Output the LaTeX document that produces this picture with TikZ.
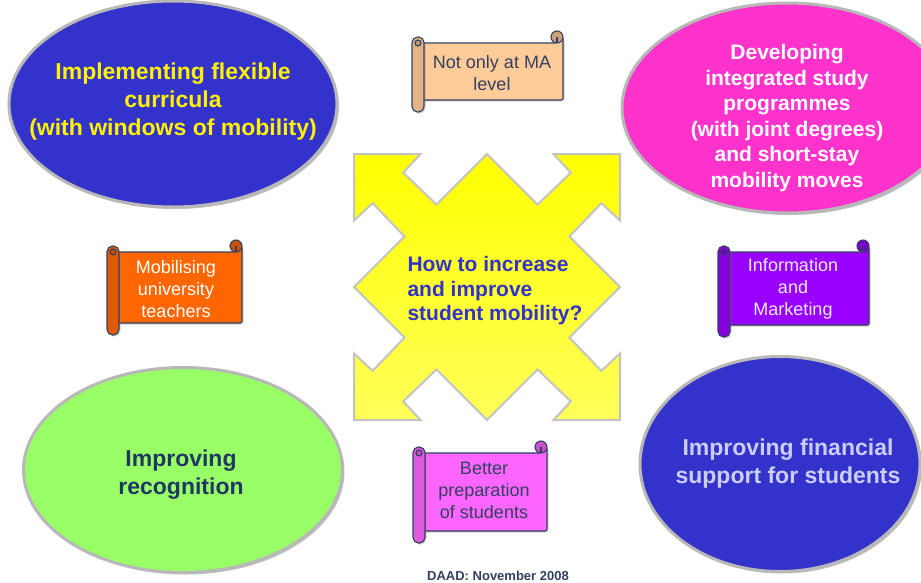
\documentclass[tikz,border=0pt]{standalone}
\usepackage{fontspec}
\setmainfont{Liberation Sans}
\usetikzlibrary{shapes.geometric,shadows}

\definecolor{deepblue}{HTML}{3333CC}
\definecolor{hotpink}{HTML}{FF33CC}
\definecolor{limegreen}{HTML}{99FF66}
\definecolor{peach}{HTML}{FFCC99}
\definecolor{tangerine}{HTML}{FF6600}
\definecolor{violetfill}{HTML}{9900FF}
\definecolor{pinkfill}{HTML}{FF66FF}
\definecolor{slate}{HTML}{334060}
\definecolor{navy}{HTML}{1F3864}
\definecolor{lavender}{HTML}{CCCCFF}
\definecolor{rimgray}{HTML}{B8B8B8}

\tikzset{
  bubble/.style={ellipse, draw=rimgray, line width=3pt, inner sep=0pt, align=center,
    drop shadow={shadow xshift=2pt, shadow yshift=-2pt, fill=gray, opacity=0.5}},
  bubbletext/.style={font=\fontsize{23}{28}\selectfont\bfseries},
  scrollline/.style={draw=slate, line width=1.1pt},
  scrolltext/.style={align=center, font=\fontsize{18}{22}\selectfont},
}

% scroll: left, top, right, bottom, roll size, colour
\newcommand{\scrollbox}[6]{%
  % sheet
  \draw[scrollline, fill=#6, rounded corners=2pt,
    drop shadow={shadow xshift=1.5pt, shadow yshift=-1.5pt, opacity=0.35}]
    ({#1+#5/2},{#2+#5}) -- ({#3-#5/2},{#2+#5}) -- ({#3-#5/2},{#2+#5/2})
    -- (#3,{#2+#5/2}) -- (#3,{#4-#5}) -- ({#1+#5/2},{#4-#5}) -- cycle;
  % top right curl
  \draw[scrollline, fill=#6!80!black] ({#3-#5/2},{#2+#5/2}) circle ({#5/2});
  \draw[scrollline] ({#3-#5/2},{#2+#5/2}) -- ({#3-#5/2},{#2+#5});
  % left roll
  \draw[scrollline, fill=#6!88!black, rounded corners=5.5pt,
    drop shadow={shadow xshift=1.5pt, shadow yshift=-1.5pt, opacity=0.35}]
    (#1,{#2+#5/2}) rectangle ({#1+#5},#4);
  \draw[scrollline, fill=#6!75!black] ({#1+#5/2},{#2+#5}) circle ({#5/4});
}

\begin{document}
\begin{tikzpicture}[x=1pt,y=-1pt]
  \useasboundingbox[fill=white] (0,0) rectangle (921,582);

  % Ellipses
  \node[bubble, fill=deepblue, minimum width=328pt, minimum height=206pt] (flex) at (173,104) {};
  \node[bubbletext, text=yellow, align=center] (flextext) at (173,102)
    {Implementing flexible\\curricula\\(with windows of mobility)};

  \node[bubble, fill=hotpink, minimum width=330pt, minimum height=210pt] (integ) at (787,108) {};
  \node[font=\fontsize{21}{25.5}\selectfont\bfseries, text=white, align=center] (integtext) at (787,118)
    {Developing\\integrated study\\programmes\\(with joint degrees)\\and short-stay\\mobility moves};

  \node[bubble, fill=limegreen, minimum width=319pt, minimum height=205pt] (recog) at (183,470) {};
  \node[bubbletext, text=navy, align=center] (recogtext) at (181,474.5)
    {Improving\\recognition};

  \node[bubble, fill=deepblue, minimum width=280pt, minimum height=215pt] (finan) at (780,464) {};
  \node[bubbletext, text=lavender, align=center] (finantext) at (788,464)
    {Improving financial\\support for students};

  % Four-way arrow
  \begin{scope}[shift={(487,287)}, scale=133]
    \draw[draw=rimgray!85, line width=2pt,
      top color={rgb,255:red,255;green,255;blue,0}, bottom color={rgb,255:red,255;green,255;blue,90}]
      (-1,-1) -- (-0.5,-1) -- (-0.63,-0.86) -- (-0.38,-0.62) -- (0,-1) -- (0.38,-0.62)
      -- (0.63,-0.86) -- (0.5,-1) -- (1,-1) -- (1,-0.5) -- (0.86,-0.63) -- (0.62,-0.38)
      -- (1,0) -- (0.62,0.38) -- (0.86,0.63) -- (1,0.5) -- (1,1) -- (0.5,1)
      -- (0.63,0.86) -- (0.38,0.62) -- (0,1) -- (-0.38,0.62) -- (-0.63,0.86) -- (-0.5,1)
      -- (-1,1) -- (-1,0.5) -- (-0.86,0.63) -- (-0.62,0.38) -- (-1,0) -- (-0.62,-0.38)
      -- (-0.86,-0.63) -- (-1,-0.5) -- cycle;
  \end{scope}
  \node[font=\fontsize{21}{24.5}\selectfont\bfseries, text=deepblue, align=left] (question) at (495,291)
    {How to increase\\and improve\\student mobility?};

  % Scrolls
  \scrollbox{412}{31}{563}{112}{12}{peach}
  \node[scrolltext, text=slate] (malevel) at (492,73) {Not only at MA\\level};

  \scrollbox{107}{240}{242}{335}{12}{tangerine}
  \node[scrolltext, text=white] (teachers) at (176,289) {Mobilising\\university\\teachers};

  \scrollbox{718}{240}{869}{337}{12}{violetfill}
  \node[scrolltext, text=lavender!40] (marketing) at (793,289) {Information\\and\\Marketing};

  \scrollbox{413}{441}{547}{543}{12}{pinkfill}
  \node[scrolltext, text=slate] (prep) at (484,490) {Better\\preparation\\of students};

  % Footer
  \node[font=\fontsize{13}{15}\selectfont\bfseries, text=slate, anchor=base] (footer) at (498,580.5)
    {DAAD: November 2008};
\end{tikzpicture}
\end{document}
